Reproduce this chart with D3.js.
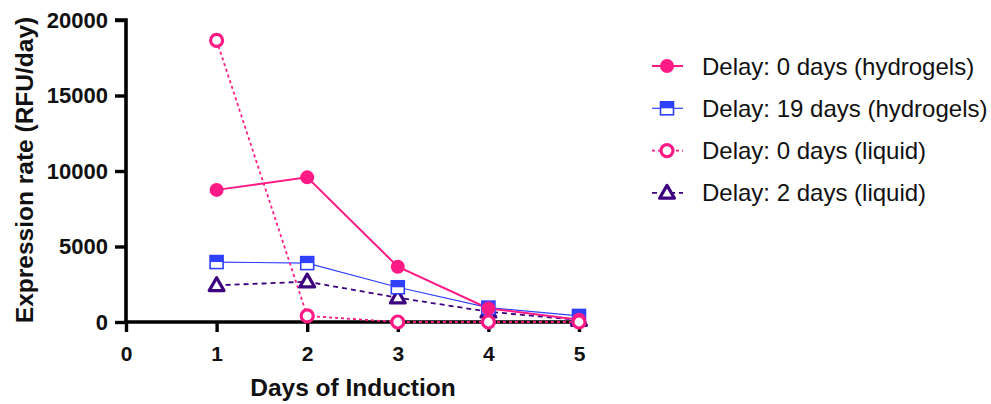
<!DOCTYPE html>
<html><head><meta charset="utf-8">
<script src="https://cdn.jsdelivr.net/npm/d3@7"></script>
<style>body{margin:0;background:#fff;} svg{display:block;font-family:"Liberation Sans",Arial,sans-serif;}</style>
</head><body><svg id="c" width="991" height="404"></svg>
<script>
const days = [1, 2, 3, 4, 5];
const xTicks = [0, 1, 2, 3, 4, 5];
const yTicks = [0, 5000, 10000, 15000, 20000];
const seriesNames = ["Delay: 0 days (hydrogels)", "Delay: 19 days (hydrogels)", "Delay: 0 days (liquid)", "Delay: 2 days (liquid)"];
const hydro0 = [8750, 9580, 3660, 900, 150];
const hydro19 = [3970, 3900, 2300, 950, 400];
const liquid0 = [18650, 400, 0, 0, 0];
const liquid2 = [2430, 2670, 1610, 680, 130];
const xTitle = "Days of Induction";
const yTitle = "Expression rate (RFU/day)";

const series = [
  {name: seriesNames[0], values: hydro0, color: "#ff1a86", dash: null, width: 2, marker: "filledCircle"},
  {name: seriesNames[1], values: hydro19, color: "#2f40ff", dash: null, width: 1.2, marker: "halfSquare"},
  {name: seriesNames[2], values: liquid0, color: "#ff1a86", dash: "3,3", width: 1.8, marker: "openCircle"},
  {name: seriesNames[3], values: liquid2, color: "#3d007f", dash: "5,4", width: 1.8, marker: "openTriangle"}
];

const svg = d3.select("#c");
const x = d3.scaleLinear().domain([0, 5]).range([126, 579]);
const y = d3.scaleLinear().domain([0, 20000]).range([322, 20]);

// axes
const yAxis = svg.append("g").attr("transform", "translate(126,0)")
  .call(d3.axisLeft(y).tickValues(yTicks).tickSize(11).tickPadding(7).tickFormat(d3.format("d")));
const xAxis = svg.append("g").attr("transform", "translate(0,322)")
  .call(d3.axisBottom(x).tickValues(xTicks).tickSize(10).tickPadding(14).tickFormat(d3.format("d")));
[yAxis, xAxis].forEach(a => {
  a.attr("font-size", 21).attr("font-family", "'Liberation Sans',Arial,sans-serif");
  a.select(".domain").attr("stroke", "#000").attr("stroke-width", 3.6);
  a.selectAll(".tick line").attr("stroke", "#000").attr("stroke-width", 3.4);
  a.selectAll(".tick text").attr("fill", "#111").attr("font-weight", "bold");
});
yAxis.selectAll(".tick text").attr("font-size", 22);
xAxis.selectAll(".tick text").attr("font-size", 21);
yAxis.select(".domain").attr("d", "M0,324V20H-11");
xAxis.select(".domain").attr("d", "M124,0H579");

svg.append("text").attr("x", 353).attr("y", 396).attr("text-anchor", "middle")
  .attr("font-size", 24.5).attr("font-weight", "bold").attr("fill", "#111").text(xTitle);
svg.append("text").attr("transform", "translate(33,170) rotate(-90)").attr("text-anchor", "middle")
  .attr("font-size", 24.5).attr("font-weight", "bold").attr("fill", "#111").text(yTitle);

function drawMarker(g, s, cx, cy) {
  if (s.marker === "filledCircle") {
    g.append("circle").attr("cx", cx).attr("cy", cy).attr("r", 7).attr("fill", s.color);
  } else if (s.marker === "openCircle") {
    g.append("circle").attr("cx", cx).attr("cy", cy).attr("r", 6).attr("fill", "#fff")
      .attr("stroke", s.color).attr("stroke-width", 3.2);
  } else if (s.marker === "halfSquare") {
    g.append("rect").attr("x", cx - 6.5).attr("y", cy - 6.5).attr("width", 13).attr("height", 13)
      .attr("fill", "#fff").attr("stroke", s.color).attr("stroke-width", 1.6);
    g.append("rect").attr("x", cx - 6.5).attr("y", cy - 6.5).attr("width", 13).attr("height", 6.5)
      .attr("fill", s.color);
  } else if (s.marker === "openTriangle") {
    const t = d3.symbol().type(d3.symbolTriangle).size(95);
    g.append("path").attr("d", t()).attr("transform", `translate(${cx},${cy + 1})`)
      .attr("fill", "#fff").attr("stroke", s.color).attr("stroke-width", 3.2).attr("stroke-linejoin", "round");
  }
}

const line = d3.line().x((d, i) => x(days[i])).y(d => y(d));
const drawOrder = [3, 1, 0, 2];
drawOrder.forEach(k => {
  const s = series[k];
  svg.append("path").attr("d", line(s.values)).attr("fill", "none").attr("stroke", s.color)
    .attr("stroke-width", s.width).attr("stroke-dasharray", s.dash);
});
drawOrder.forEach(k => {
  const s = series[k];
  const g = svg.append("g");
  s.values.forEach((v, i) => drawMarker(g, s, x(days[i]), y(v)));
});

// legend
const leg = svg.append("g");
series.forEach((s, i) => {
  const cy = 66 + i * 42.3;
  leg.append("line").attr("x1", 652).attr("x2", 683).attr("y1", cy).attr("y2", cy)
    .attr("stroke", s.color).attr("stroke-width", s.width).attr("stroke-dasharray", s.dash);
  drawMarker(leg, s, 667, cy);
  leg.append("text").attr("x", 702).attr("y", cy + 8.5).attr("font-size", 24).attr("fill", "#111").text(s.name);
});
</script></body></html>
